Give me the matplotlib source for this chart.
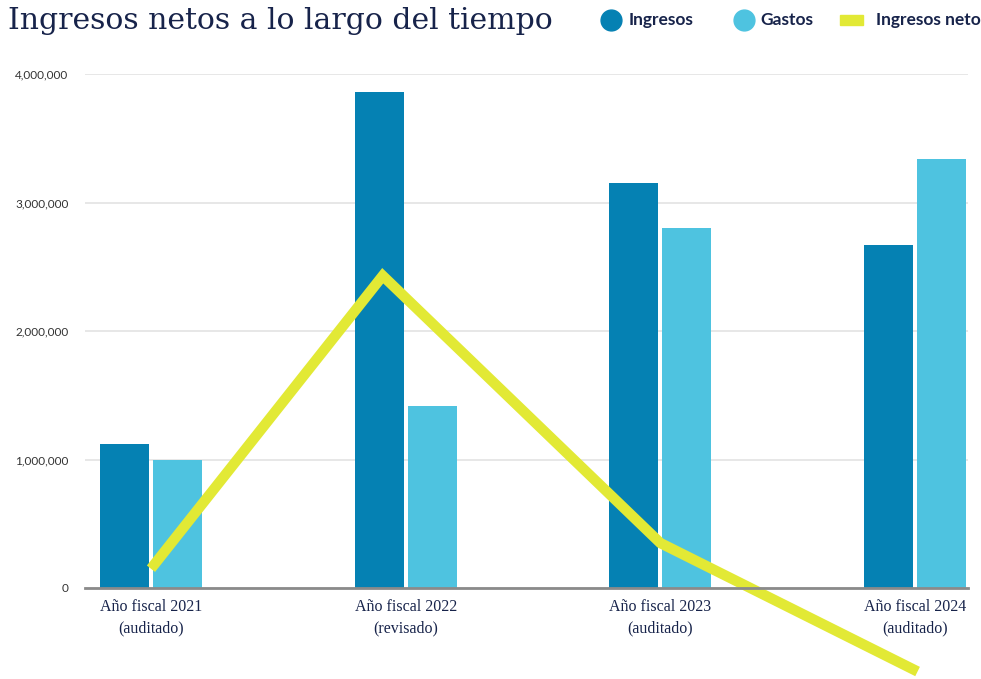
import numpy as np
import matplotlib
matplotlib.use("Agg")
import matplotlib.pyplot as plt
from matplotlib.lines import Line2D
from matplotlib.patches import Rectangle
from matplotlib.ticker import FuncFormatter

# data
categories = ["Año fiscal 2021\n(auditado)", "Año fiscal 2022\n(revisado)",
              "Año fiscal 2023\n(auditado)", "Año fiscal 2024\n(auditado)"]
ingresos = [1120000, 3860000, 3150000, 2670000]
gastos = [1000000, 1420000, 2800000, 3340000]
ingresos_netos = [150000, 2430000, 350000, -650000]
legend_labels = ["Ingresos", "Gastos", "Ingresos netos"]

c_ing = "#0581b3"
c_gas = "#4ec3e0"
c_net = "#e2e935"
navy = "#17234a"

W, H = 981, 679
fig = plt.figure(figsize=(W/100, H/100), dpi=100)
ax = fig.add_axes([85/W, 1-588/H, 883/W, (588-74)/H])

x = np.arange(len(categories))
w = 0.192
ax.bar(x - 0.104, ingresos, w, color=c_ing, zorder=2)
ax.bar(x + 0.104, gastos, w, color=c_gas, zorder=2)

# the net line in the original is not exactly centred on the groups
line_shift = [0.0, -0.09, 0.0, 0.01]
ax.plot(x + np.array(line_shift), ingresos_netos, color=c_net, lw=7.5,
        solid_joinstyle="miter", solid_capstyle="butt", zorder=3, clip_on=False)

ax.set_xlim(-0.259, 3.208)
ax.set_ylim(0, 4000000)
ax.set_yticks([0, 1000000, 2000000, 3000000, 4000000])
ax.yaxis.set_major_formatter(FuncFormatter(lambda v, p: f"{int(v):,}"))
ax.grid(axis="y", color="#e3e3e3", lw=1.2, zorder=0)
ax.set_axisbelow(True)

for s in ["top", "right", "left"]:
    ax.spines[s].set_visible(False)
ax.spines["bottom"].set_color("#8a8a8a")
ax.spines["bottom"].set_linewidth(2)
ax.spines["bottom"].set_zorder(4)

ax.tick_params(axis="y", length=0, pad=12, labelsize=8.5, labelcolor="#333333")
for t in ax.get_yticklabels():
    t.set_fontfamily("Lato")
ax.set_xticks(x)
ax.set_xticklabels(categories, fontfamily="Liberation Serif", fontsize=11.5,
                   color=navy, linespacing=1.45)
ax.tick_params(axis="x", length=0, pad=8)

fig.text(8/W, 1-21/H, "Ingresos netos a lo largo del tiempo", fontfamily="DejaVu Serif",
         fontsize=21.5, color=navy, va="center", ha="left")

# legend, placed by hand like the original
ly = 1 - 20/H
fig.add_artist(Line2D([611/W], [ly], marker="o", ls="", color=c_ing, markersize=15,
                      transform=fig.transFigure))
fig.add_artist(Line2D([744/W], [ly], marker="o", ls="", color=c_gas, markersize=15,
                      transform=fig.transFigure))
fig.add_artist(Rectangle((840/W, 1-25/H), 23/W, 10/H, color=c_net,
                         transform=fig.transFigure))
for lx, lab in zip([629, 760, 876], legend_labels):
    fig.text(lx/W, ly, lab, fontfamily="Lato", fontweight="bold", fontsize=12.5,
             color=navy, va="center", ha="left")

fig.savefig("out.png", dpi=100)
